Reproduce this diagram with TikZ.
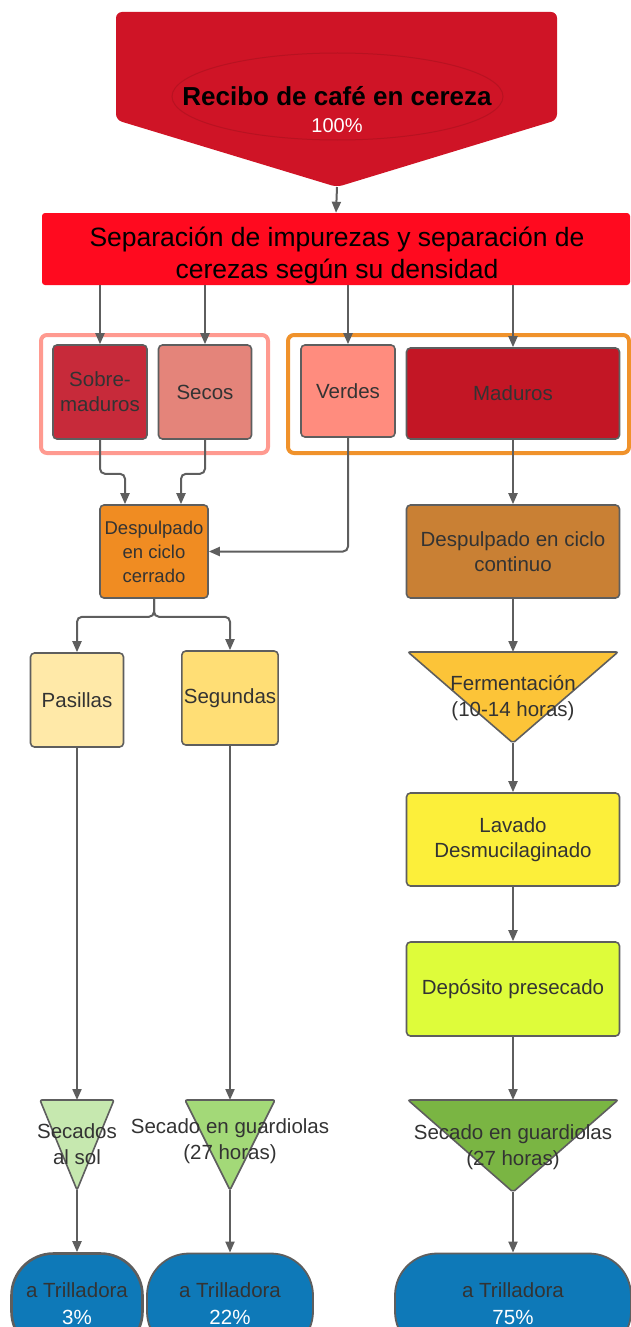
\documentclass[tikz,border=0pt]{standalone}
\usepackage{fontspec}
\setmainfont{Liberation Sans}
\usetikzlibrary{arrows.meta, positioning}

\definecolor{linegray}{HTML}{5E5E5E}
\definecolor{txtgray}{HTML}{333333}
\definecolor{topred}{HTML}{CF1426}
\definecolor{ellred}{HTML}{B81221}
\definecolor{sepred}{HTML}{FF0A1F}
\definecolor{frameL}{HTML}{FF9A90}
\definecolor{frameR}{HTML}{F0922B}
\definecolor{sobrec}{HTML}{C72A3A}
\definecolor{secosc}{HTML}{E4847A}
\definecolor{verdesc}{HTML}{FF8C7E}
\definecolor{madc}{HTML}{C31625}
\definecolor{cerrc}{HTML}{F08C22}
\definecolor{contc}{HTML}{C98034}
\definecolor{pasc}{HTML}{FFE9A8}
\definecolor{segc}{HTML}{FFDE75}
\definecolor{fermc}{HTML}{FCC438}
\definecolor{lavc}{HTML}{FCEF3A}
\definecolor{depc}{HTML}{DEFC3A}
\definecolor{solc}{HTML}{C6E8AF}
\definecolor{guarc}{HTML}{A3D978}
\definecolor{guarRc}{HTML}{7AB543}
\definecolor{trilc}{HTML}{0E79B8}

\tikzset{
  box/.style={draw=linegray, line width=1.6pt, rounded corners=4pt, align=center,
    text=txtgray, inner sep=2pt},
  conn/.style={draw=linegray, line width=2pt, rounded corners=5pt,
    -{Triangle[length=11pt,width=9pt]}},
  tri/.style={draw=linegray, line width=1.6pt, rounded corners=2pt},
  tritext/.style={align=center, text=txtgray, inner sep=0pt,
    font=\fontsize{20.5}{26}\selectfont},
  stad/.style={draw=linegray, line width=1.8pt, rounded corners=42pt, align=center,
    text=txtgray, minimum height=100pt, font=\fontsize{20.5}{27}\selectfont},
  frame/.style={line width=4pt, rounded corners=6pt},
}

\begin{document}
\begin{tikzpicture}[x=1pt, y=-1pt, font=\fontsize{20.5}{25}\selectfont]

    \useasboundingbox (0,0) rectangle (631,1327);
    \clip (0,0) rectangle (631,1327);

    % reception
    \fill[topred, rounded corners=6pt]
      (116,120) -- (116,12) -- (557,12) -- (557,120) -- (337,187) -- cycle;
    \draw[ellred, line width=1pt] (337.5,96.5) ellipse [x radius=165.5, y radius=43.5];
    \coordinate (recibotip) at (337,187);
    \node[font=\bfseries\fontsize{26}{30}\selectfont, text=black] (recibo) at (337,96)
      {Recibo de café en cereza};
    \node[text=white, font=\fontsize{20}{24}\selectfont] (pct) at (337,126) {100\%};

    \node[fill=sepred, rounded corners=3pt, minimum width=588pt, minimum height=72pt]
      (sep) at (336,249) {};
    \node[align=center, font=\fontsize{26.5}{32}\selectfont] (septext) at (337,255)
      {Separación de impurezas y separación de\\cerezas según su densidad};
    \draw[conn] (recibotip) -- (sep.north);

    % groups
    \draw[frame, frameL] (41,335) rectangle (268,453);
    \draw[frame, frameR] (288,335) rectangle (629,453);

    \node[box, fill=sobrec, minimum width=94pt, minimum height=94pt] (sobre) at (100,392)
      {Sobre-\\maduros};
    \node[box, fill=secosc, minimum width=93pt, minimum height=94pt] (secos) at (205,392)
      {Secos};
    \node[box, fill=verdesc, minimum width=94pt, minimum height=92pt] (verdes) at (348,391)
      {Verdes};
    \node[box, fill=madc, minimum width=213pt, minimum height=91pt] (mad) at (513,393.5)
      {Maduros};

    \foreach \n in {sobre, secos, verdes, mad}
      \draw[conn] (sep.south -| \n.north) -- (\n.north);

    % left branch
    \node[box, fill=cerrc, minimum width=108pt, minimum height=93pt,
      font=\fontsize{18.5}{24}\selectfont] (cerr) at (154,551.5)
      {Despulpado\\en ciclo\\cerrado};
    \draw[conn] (sobre.south) -- ++(0,34) -| ([xshift=-29pt]cerr.north);
    \draw[conn] (secos.south) -- ++(0,34) -| ([xshift=27pt]cerr.north);
    \draw[conn] (verdes.south) |- (cerr.east);

    \node[box, fill=pasc, minimum width=93pt, minimum height=94pt] (pas) at (77,700)
      {Pasillas};
    \node[box, fill=segc, minimum width=94pt, minimum height=94pt] (seg) at (230,698)
      {Segundas};
    \draw[conn] (cerr.south) -- ++(0,18) -| (pas.north);
    \draw[conn] (cerr.south) -- ++(0,18) -| (seg.north);

    \draw[tri, fill=solc] (40,1100) -- (114,1100) -- (77,1190) -- cycle;
    \coordinate (soltop) at (77,1100);
    \coordinate (soltip) at (77,1190);
    \node[tritext] (sol) at (77,1144) {Secados\\al sol};

    \draw[tri, fill=guarc] (185,1100) -- (275,1100) -- (230,1190) -- cycle;
    \coordinate (guartop) at (230,1100);
    \coordinate (guartip) at (230,1190);
    \node[tritext] (guar) at (230,1141) {Secado en guardiolas\\(27 horas)};

    \draw[conn] (pas.south) -- (soltop);
    \draw[conn] (seg.south) -- (guartop);

    % right branch
    \node[box, fill=contc, minimum width=213pt, minimum height=93pt] (cont) at (513,551.5)
      {Despulpado en ciclo\\continuo};
    \draw[conn] (mad.south) -- (cont.north);

    \draw[tri, fill=fermc] (408,652) -- (618,652) -- (513,743) -- cycle;
    \coordinate (fermtop) at (513,652);
    \coordinate (fermtip) at (513,743);
    \node[tritext] (ferm) at (513,698) {Fermentación\\(10-14 horas)};
    \draw[conn] (cont.south) -- (fermtop);

    \node[box, fill=lavc, minimum width=213pt, minimum height=93pt] (lav) at (513,839.5)
      {Lavado\\Desmucilaginado};
    \draw[conn] (fermtip) -- (lav.north);

    \node[box, fill=depc, minimum width=213pt, minimum height=94pt] (dep) at (513,989)
      {Depósito presecado};
    \draw[conn] (lav.south) -- (dep.north);

    \draw[tri, fill=guarRc] (408,1100) -- (618,1100) -- (513,1192) -- cycle;
    \coordinate (guarRtop) at (513,1100);
    \coordinate (guarRtip) at (513,1192);
    \node[tritext] (guarR) at (513,1147) {Secado en guardiolas\\(27 horas)};
    \draw[conn] (dep.south) -- (guarRtop);

    % to the huller
    \node[stad, fill=trilc, minimum width=131pt, line width=2.6pt] (tril3) at (77,1303.5)
      {a Trilladora\\{\color{white}3\%}};
    \node[stad, fill=trilc, minimum width=166pt] (tril22) at (230,1303.5)
      {a Trilladora\\{\color{white}22\%}};
    \node[stad, fill=trilc, minimum width=236pt] (tril75) at (513,1303.5)
      {a Trilladora\\{\color{white}75\%}};

    \draw[conn] (soltip) -- (tril3.north);
    \draw[conn] (guartip) -- (tril22.north);
    \draw[conn] (guarRtip) -- (tril75.north);

\end{tikzpicture}
\end{document}
